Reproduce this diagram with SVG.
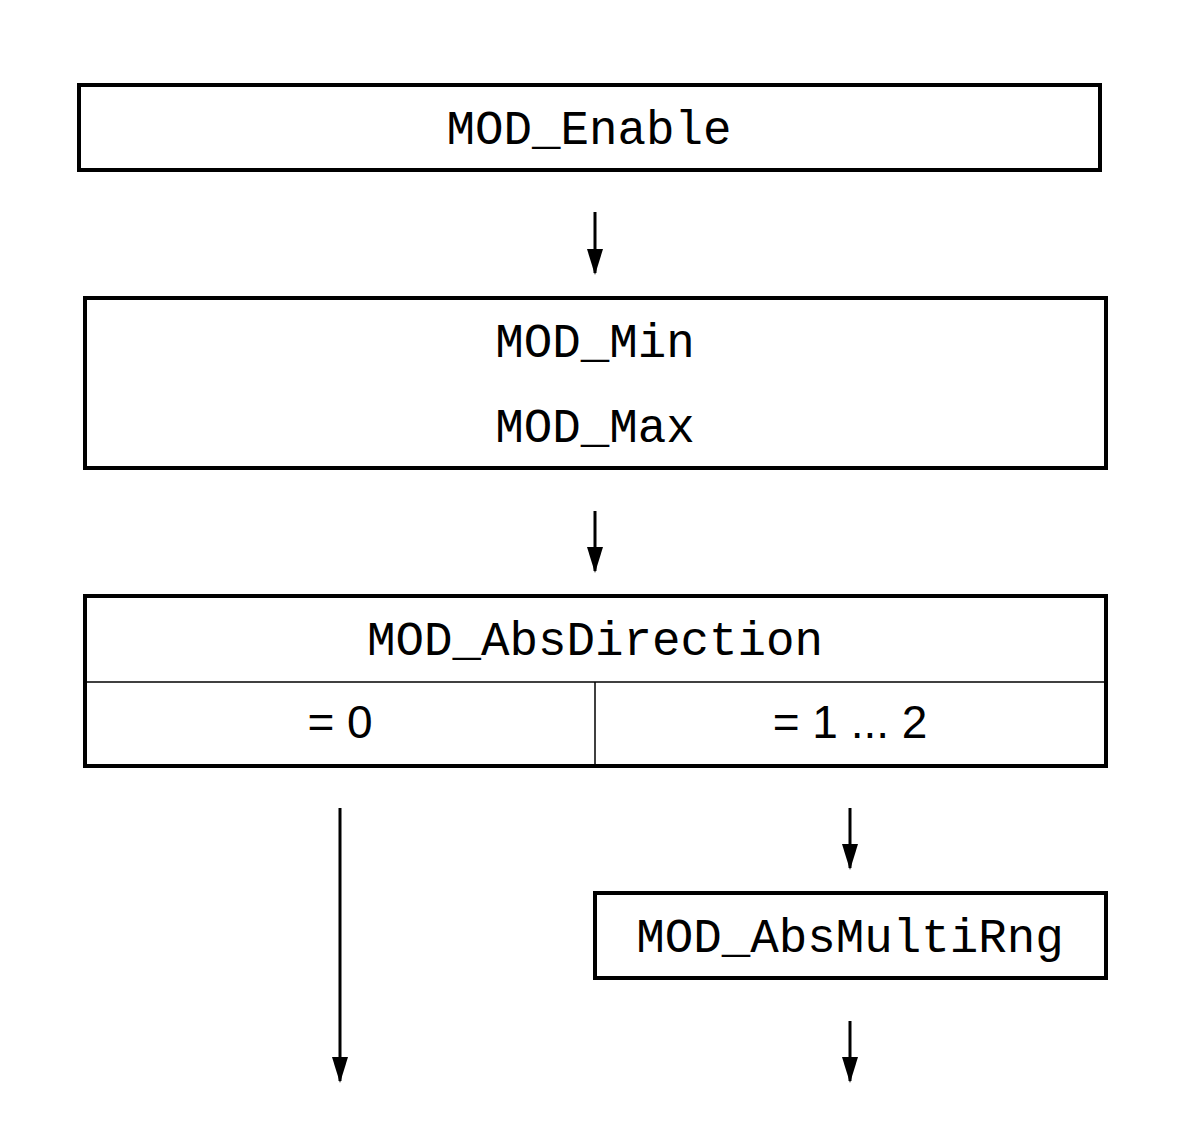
<svg xmlns="http://www.w3.org/2000/svg" width="1188" height="1146" viewBox="0 0 1188 1146">
<style>
.box{fill:#fff;stroke:#000;stroke-width:4}
.thin{stroke:#000;stroke-width:1.5;fill:none}
.mono{font-family:"Liberation Mono","Courier New",monospace;font-size:47.5px;fill:#000;text-anchor:middle}
.sans{font-family:"Liberation Sans",Arial,sans-serif;font-size:46px;fill:#000;text-anchor:middle}
.conn{stroke:#000;stroke-width:3;fill:none;marker-end:url(#ah)}
</style>
<defs>
<marker id="ah" markerUnits="userSpaceOnUse" markerWidth="26" markerHeight="16" refX="24" refY="8" orient="auto" viewBox="0 0 26 16">
<path d="M0,0 L26,8 L0,16 Z" fill="#000"/>
</marker>
</defs>
<rect width="1188" height="1146" fill="#fff"/>
<g id="n1">
<rect class="box" x="79" y="85" width="1021" height="85"/>
<text class="mono" x="589" y="144">MOD_Enable</text>
</g>
<g id="n2">
<rect class="box" x="85" y="298" width="1021" height="170"/>
<text class="mono" x="595" y="357">MOD_Min</text>
<text class="mono" x="595" y="442">MOD_Max</text>
</g>
<g id="n3">
<rect class="box" x="85" y="596" width="1021" height="170"/>
<line class="thin" x1="85" y1="682" x2="1106" y2="682"/>
<line class="thin" x1="595" y1="682" x2="595" y2="766"/>
<text class="mono" x="595" y="655">MOD_AbsDirection</text>
<text class="sans" x="340" y="738">= 0</text>
<text class="sans" x="850" y="738">= 1 ... 2</text>
</g>
<g id="n4">
<rect class="box" x="595" y="893" width="511" height="85"/>
<text class="mono" x="850" y="952">MOD_AbsMultiRng</text>
</g>
<g id="connectors">
<line class="conn" x1="595" y1="212" x2="595" y2="273"/>
<line class="conn" x1="595" y1="511" x2="595" y2="571"/>
<line class="conn" x1="340" y1="808" x2="340" y2="1081"/>
<line class="conn" x1="850" y1="808" x2="850" y2="868"/>
<line class="conn" x1="850" y1="1021" x2="850" y2="1081"/>
</g>
</svg>
